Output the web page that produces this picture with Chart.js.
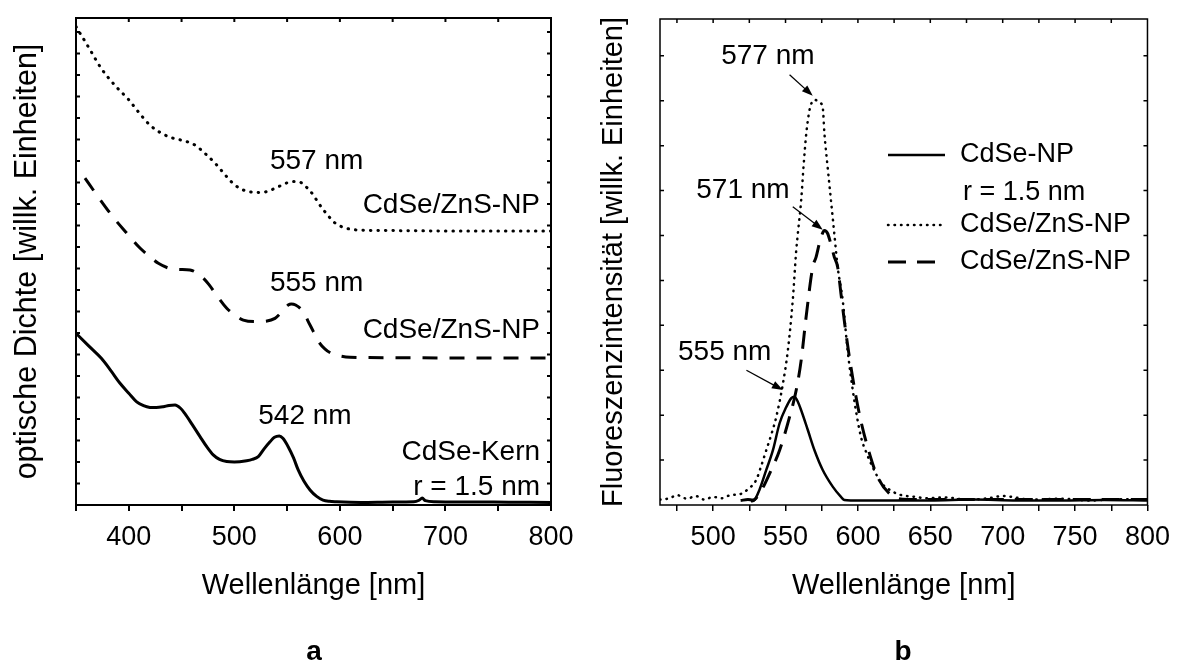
<!DOCTYPE html>
<html>
<head>
<meta charset="utf-8">
<script src="https://cdn.jsdelivr.net/npm/chart.js@4.4.1/dist/chart.umd.min.js"></script>
<style>
  html, body { margin: 0; padding: 0; background: #fff; }
  #wrap { position: relative; width: 1180px; height: 666px; overflow: hidden; }
  canvas { position: absolute; top: 0; }
  #absChart { left: 0; }
  #flChart { left: 590px; }
</style>
</head>
<body>
<div id="wrap">
  <canvas id="absChart" width="590" height="666"></canvas>
  <canvas id="flChart" width="590" height="666"></canvas>
</div>
<script>
const FONT = "'Liberation Sans', Arial, sans-serif";
Chart.defaults.font.family = FONT;
Chart.defaults.color = "#000";

// ========== a: Absorption (willk. Einheiten) ==========
const kernX = [350, 362, 374, 383, 391.7, 400, 407.5, 414, 420, 426, 432.7, 438, 443.8, 449, 453, 460, 467.5, 474, 480, 486, 492.8, 500, 511.7, 517, 522.7, 528, 533.8, 538, 542.6, 546, 551, 556, 560.5, 566, 571.7, 578, 584, 590, 597, 620, 650, 670, 675, 678, 681, 690, 720, 760, 800];
const kernY = [7.99, 7.4, 6.82, 6.25, 5.66, 5.2, 4.8, 4.62, 4.54, 4.53, 4.57, 4.63, 4.65, 4.5, 4.26, 3.75, 3.18, 2.7, 2.33, 2.12, 2.02, 2.0, 2.06, 2.12, 2.25, 2.6, 2.94, 3.15, 3.21, 3.1, 2.71, 2.2, 1.63, 1.1, 0.7, 0.4, 0.23, 0.17, 0.15, 0.12, 0.14, 0.15, 0.22, 0.32, 0.2, 0.15, 0.14, 0.13, 0.12];

const shell557X = [350, 363, 374, 388.5, 399.6, 409, 420, 431, 442, 453, 462.7, 472, 481.7, 492.8, 500, 508.5, 517, 526, 533, 540, 548, 555.9, 561, 565, 570, 574.8, 579, 584, 589, 593.8, 600, 606, 620, 660, 700, 750, 800];
const shell557Y = [22.25, 21.2, 20.3, 19.43, 18.87, 18.29, 17.67, 17.29, 17.06, 16.93, 16.74, 16.36, 15.9, 15.27, 14.9, 14.65, 14.55, 14.53, 14.62, 14.76, 14.95, 15.04, 15.04, 14.93, 14.7, 14.42, 14.1, 13.75, 13.45, 13.18, 12.98, 12.87, 12.78, 12.76, 12.74, 12.74, 12.74];

const shell555X = [358.5, 370, 385, 398, 410.6, 420, 428, 439, 448, 458, 469, 476, 483, 492.8, 500, 508.5, 521, 530, 538.5, 545, 551, 554, 558, 565, 571.7, 581, 586, 592, 600, 609.6, 650, 700, 750, 800];
const shell555Y = [15.2, 14.4, 13.4, 12.65, 11.95, 11.55, 11.24, 11.0, 10.95, 10.93, 10.62, 10.25, 9.77, 9.15, 8.85, 8.6, 8.53, 8.55, 8.68, 8.98, 9.3, 9.35, 9.3, 9.0, 8.37, 7.52, 7.25, 7.05, 6.93, 6.87, 6.85, 6.84, 6.84, 6.84];

// ========== b: Fluoreszenz (willk. Einheiten) ==========
const npX = [526, 528.5, 531.9, 536.7, 541.3, 545.9, 550.5, 554, 556.2, 558.5, 560.8, 565.4, 570, 575.7, 582.6, 588.3, 590.6, 595, 620, 650, 680, 710, 740, 770, 800];
const npY = [0.08, 0.11, 0.33, 0.78, 1.22, 1.82, 2.18, 2.38, 2.41, 2.3, 2.11, 1.67, 1.22, 0.78, 0.41, 0.18, 0.11, 0.1, 0.1, 0.1, 0.12, 0.1, 0.1, 0.11, 0.1];

const fl577X = [463.3, 470, 475, 482, 488, 494, 500, 506, 512, 518.4, 524, 529.8, 533, 536.7, 540, 543.6, 548.2, 551.6, 555, 557.4, 558.5, 560.8, 562.4, 564.3, 566.5, 568, 570, 572, 574, 575.7, 576.9, 579.1, 581.4, 583.7, 586, 589.5, 592.9, 597.5, 602.1, 606, 610.1, 616, 623.9, 630, 640, 646.8, 660, 675, 690, 700, 720, 740, 760, 780, 800];
const fl577Y = [0.12, 0.15, 0.22, 0.14, 0.2, 0.12, 0.18, 0.15, 0.22, 0.24, 0.35, 0.56, 0.85, 1.22, 1.55, 1.96, 2.7, 3.44, 4.56, 5.67, 6.04, 6.78, 7.52, 8.26, 8.78, 8.95, 9.02, 9.0, 8.95, 8.85, 8.26, 7.52, 6.78, 6.04, 5.3, 4.56, 3.44, 2.33, 1.52, 1.15, 0.85, 0.5, 0.3, 0.22, 0.18, 0.15, 0.17, 0.12, 0.15, 0.2, 0.12, 0.14, 0.1, 0.13, 0.12];

const fl571X = [519, 524, 527.5, 532.1, 539, 545.9, 552.8, 557.4, 560.8, 564.2, 568.8, 571.1, 574, 576.9, 579, 581, 583.7, 586, 588.3, 591.8, 596.3, 600.9, 606.6, 613.5, 621.6, 630.8, 650, 700, 750, 800];
const fl571Y = [0.1, 0.12, 0.11, 0.26, 0.7, 1.22, 1.96, 2.56, 3.22, 4.18, 5.3, 5.52, 5.9, 6.11, 6.05, 5.85, 5.52, 5.3, 4.7, 3.81, 2.85, 2.04, 1.3, 0.63, 0.26, 0.13, 0.12, 0.12, 0.12, 0.12];

// Beschriftungen im Diagramm (Datenkoordinaten)
const absLabels = [
  { text: "557 nm", x: 578, y: 15.97 },
  { text: "CdSe/ZnS-NP", x: 789.6, y: 13.95, align: "right" },
  { text: "555 nm", x: 578, y: 10.31 },
  { text: "CdSe/ZnS-NP", x: 789.6, y: 8.14, align: "right" },
  { text: "542 nm", x: 566.9, y: 4.11 },
  { text: "CdSe-Kern", x: 789.6, y: 2.47, align: "right" },
  { text: "r = 1.5 nm", x: 789.6, y: 0.84, align: "right" },
];
const flLabels = [
  { text: "577 nm", x: 537.8, y: 10.0 },
  { text: "571 nm", x: 520.6, y: 7.0 },
  { text: "555 nm", x: 508.0, y: 3.41 },
];
const flArrows = [
  { from: [552.8, 9.58], to: [568.8, 9.11] },
  { from: [555.0, 6.64], to: [575.7, 6.13] },
  { from: [523.0, 3.0], to: [548.2, 2.56] },
];
const flLegend = [
  { ds: 0, text: "CdSe-NP", y: 155 },
  { ds: null, text: "r = 1.5 nm", y: 193, dx: 3 },
  { ds: 1, text: "CdSe/ZnS-NP", y: 225 },
  { ds: 2, text: "CdSe/ZnS-NP", y: 262 },
];

const toXY = (xs, ys) => xs.map((x, i) => ({ x: x, y: ys[i] }));

function drawArrow(ctx, x0, y0, x1, y1) {
  const ang = Math.atan2(y1 - y0, x1 - x0);
  const len = 11, half = 4;
  ctx.beginPath();
  ctx.moveTo(x0, y0);
  ctx.lineTo(x1 - Math.cos(ang) * len * 0.8, y1 - Math.sin(ang) * len * 0.8);
  ctx.stroke();
  ctx.beginPath();
  ctx.moveTo(x1, y1);
  ctx.lineTo(x1 - Math.cos(ang) * len - Math.sin(ang) * half, y1 - Math.sin(ang) * len + Math.cos(ang) * half);
  ctx.lineTo(x1 - Math.cos(ang) * len + Math.sin(ang) * half, y1 - Math.sin(ang) * len - Math.cos(ang) * half);
  ctx.closePath();
  ctx.fill();
}

// Rahmen, innere Ticks, Texte, Pfeile, Legende
const decorPlugin = {
  id: "decor",
  afterDraw(chart, args, opts) {
    const ctx = chart.ctx;
    const a = chart.chartArea;
    const xs = chart.scales.x;
    const ys = chart.scales.y;
    ctx.save();
    ctx.strokeStyle = "#000";
    ctx.fillStyle = "#000";
    ctx.lineWidth = opts.frameWidth;
    ctx.strokeRect(a.left, a.top, a.right - a.left, a.bottom - a.top);

    ctx.beginPath();
    xs.ticks.forEach((t) => {
      const px = xs.getPixelForValue(t.value);
      if (px <= a.left + 1 || px >= a.right - 1) return;
      ctx.moveTo(px, a.top);
      ctx.lineTo(px, a.top + 4);
    });
    ys.ticks.forEach((t) => {
      const py = ys.getPixelForValue(t.value);
      if (py <= a.top + 1 || py >= a.bottom - 1) return;
      ctx.moveTo(a.left, py);
      ctx.lineTo(a.left + 4, py);
      ctx.moveTo(a.right, py);
      ctx.lineTo(a.right - 4, py);
    });
    ctx.stroke();

    ctx.textBaseline = "middle";
    ctx.font = "28px " + FONT;
    (opts.labels || []).forEach((lab) => {
      ctx.textAlign = lab.align || "center";
      ctx.fillText(lab.text, xs.getPixelForValue(lab.x), ys.getPixelForValue(lab.y));
    });

    ctx.lineWidth = 1.3;
    (opts.arrows || []).forEach((ar) => {
      drawArrow(ctx,
        xs.getPixelForValue(ar.from[0]), ys.getPixelForValue(ar.from[1]),
        xs.getPixelForValue(ar.to[0]), ys.getPixelForValue(ar.to[1]));
    });

    if (opts.legend) {
      ctx.font = "27px " + FONT;
      ctx.textAlign = "left";
      opts.legend.items.forEach((item) => {
        if (item.ds !== null) {
          const ds = chart.data.datasets[item.ds];
          ctx.save();
          ctx.setLineDash(ds.borderDash || []);
          ctx.lineCap = ds.borderCapStyle || "butt";
          ctx.lineWidth = ds.borderWidth;
          ctx.beginPath();
          ctx.moveTo(opts.legend.x0, item.y);
          ctx.lineTo(opts.legend.x1, item.y);
          ctx.stroke();
          ctx.restore();
        }
        ctx.fillText(item.text, opts.legend.tx + (item.dx || 0), item.y);
      });
    }

    ctx.font = "bold 28px " + FONT;
    ctx.textAlign = "center";
    ctx.fillText(opts.panel, opts.panelX, opts.panelY);
    ctx.restore();
  },
};

function makeOptions(cfg) {
  return {
    responsive: false,
    animation: false,
    layout: { padding: cfg.padding },
    elements: { point: { radius: 0 }, line: { cubicInterpolationMode: "monotone" } },
    plugins: {
      legend: { display: false },
      tooltip: { enabled: false },
      decor: cfg.decor,
    },
    scales: {
      x: {
        type: "linear",
        min: cfg.xMin,
        max: 800,
        afterFit: (s) => { s.height = 161; },
        border: { display: false },
        grid: { drawOnChartArea: false, drawTicks: true, tickLength: 6, color: "#000", lineWidth: cfg.frameWidth },
        ticks: {
          stepSize: cfg.xStep,
          includeBounds: false,
          autoSkip: false,
          maxRotation: 0,
          padding: 10,
          color: "#000",
          font: { size: 27 },
          callback: (v) => (v % cfg.xLabelStep === 0 ? String(v) : ""),
        },
        title: { display: true, text: "Wellenlänge [nm]", color: "#000", font: { size: 29 }, padding: { top: 0, bottom: 62.6 } },
      },
      y: {
        type: "linear",
        min: 0,
        max: cfg.yMax,
        afterFit: (s) => { s.width = cfg.yWidth; },
        border: { display: false },
        grid: { display: false },
        ticks: { display: false, stepSize: 1, includeBounds: false },
        title: { display: true, text: cfg.yTitle, color: "#000", font: { size: cfg.yTitleSize }, padding: { top: cfg.yTitlePad, bottom: 0 } },
      },
    },
  };
}

// Diagramm a
new Chart(document.getElementById("absChart").getContext("2d"), {
  type: "line",
  data: {
    datasets: [
      { label: "CdSe-Kern", data: toXY(kernX, kernY), borderColor: "#000", borderWidth: 3 },
      { label: "CdSe/ZnS-NP 557", data: toXY(shell557X, shell557Y), borderColor: "#000", borderWidth: 3, borderDash: [0.5, 7], borderCapStyle: "round" },
      { label: "CdSe/ZnS-NP 555", data: toXY(shell555X, shell555Y), borderColor: "#000", borderWidth: 3, borderDash: [15, 12] },
    ],
  },
  options: makeOptions({
    padding: { top: 18, right: 39, bottom: 0, left: 0 },
    xMin: 350, xStep: 50, xLabelStep: 100,
    yMax: 22.65, yWidth: 76, yTitlePad: 9, yTitleSize: 30.5,
    yTitle: "optische Dichte [willk. Einheiten]",
    frameWidth: 2,
    decor: { frameWidth: 2, labels: absLabels, panel: "a", panelX: 314, panelY: 652 },
  }),
  plugins: [decorPlugin],
});

// Diagramm b
new Chart(document.getElementById("flChart").getContext("2d"), {
  type: "line",
  data: {
    datasets: [
      { label: "CdSe-NP", data: toXY(npX, npY), borderColor: "#000", borderWidth: 2.5 },
      { label: "CdSe/ZnS-NP 577", data: toXY(fl577X, fl577Y), borderColor: "#000", borderWidth: 2.5, borderDash: [0.5, 6], borderCapStyle: "round" },
      { label: "CdSe/ZnS-NP 571", data: toXY(fl571X, fl571Y), borderColor: "#000", borderWidth: 3, borderDash: [18, 11] },
    ],
  },
  options: makeOptions({
    padding: { top: 19, right: 31, bottom: 0, left: 0 },
    xMin: 463.3, xStep: 25, xLabelStep: 50,
    yMax: 10.82, yWidth: 70, yTitlePad: 6.6, yTitleSize: 29,
    yTitle: "Fluoreszenzintensität [willk. Einheiten]",
    frameWidth: 1.5,
    decor: {
      frameWidth: 1.5,
      labels: flLabels,
      arrows: flArrows,
      legend: { items: flLegend, x0: 298, x1: 355, tx: 370 },
      panel: "b", panelX: 313, panelY: 652,
    },
  }),
  plugins: [decorPlugin],
});
</script>
</body>
</html>
